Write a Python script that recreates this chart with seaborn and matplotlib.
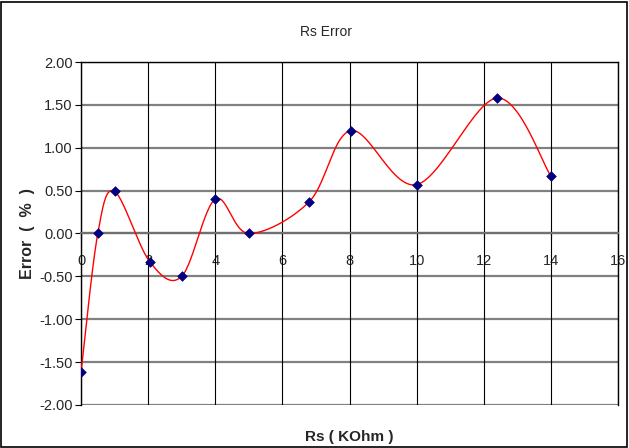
import numpy as np
import pandas as pd
import matplotlib
matplotlib.use("Agg")
import matplotlib.pyplot as plt
import seaborn as sns
from matplotlib.patches import Rectangle

# Data
rs_kohm = [0.0, 0.5, 1.0, 2.05, 3.0, 4.0, 5.0, 6.8, 8.05, 10.0, 12.4, 14.0]
error_pct = [-1.62, 0.0, 0.49, -0.33, -0.50, 0.40, 0.0, 0.37, 1.20, 0.57, 1.58, 0.67]
x_ticks = [0, 2, 4, 6, 8, 10, 12, 14, 16]
y_ticks = [-2.0, -1.5, -1.0, -0.5, 0.0, 0.5, 1.0, 1.5, 2.0]

sns.set_theme(style="white")
plt.rcParams["font.family"] = ["Liberation Sans", "DejaVu Sans"]
tick_fs = 10.5

W, H = 629, 448
fig = plt.figure(figsize=(W / 100, H / 100), dpi=100)
ax = fig.add_axes([81 / W, 1 - 405 / H, (618 - 81) / W, (405 - 62) / H])

df = pd.DataFrame({"rs": rs_kohm, "err": error_pct})

# Excel-style smoothed line (Catmull-Rom Bezier in pixel space)
sx, sy = 33.6, 86.0
P = np.column_stack([df["rs"].to_numpy() * sx, df["err"].to_numpy() * sy])
n = len(P)
curve = []
t = np.linspace(0, 1, 30)
for i in range(n - 1):
    p0 = P[i - 1] if i > 0 else P[i]
    p1 = P[i]
    p2 = P[i + 1]
    p3 = P[i + 2] if i + 2 < n else P[i + 1]
    c1 = p1 + (p2 - p0) / 6.0
    c2 = p2 - (p3 - p1) / 6.0
    seg = ((1 - t) ** 3)[:, None] * p1 + (3 * (1 - t) ** 2 * t)[:, None] * c1 \
        + (3 * (1 - t) * t ** 2)[:, None] * c2 + (t ** 3)[:, None] * p2
    curve.append(seg if i == 0 else seg[1:])
curve = np.vstack(curve)
curve_df = pd.DataFrame({"rs": curve[:, 0] / sx, "err": curve[:, 1] / sy})

sns.lineplot(data=curve_df, x="rs", y="err", sort=False, color="#ff0000",
             linewidth=1.0, ax=ax, zorder=3)
sns.scatterplot(data=df, x="rs", y="err", marker="D", s=24, color="#000080",
                edgecolor="#000080", linewidth=0.5, ax=ax, zorder=4)

ax.set_xlim(0, 16)
ax.set_ylim(-2, 2)
ax.set_xticks(x_ticks)
ax.set_yticks(y_ticks)
ax.set_xticklabels([str(v) for v in x_ticks])
ax.set_yticklabels([f"{v:.2f}" for v in y_ticks])

# gridlines
for v in y_ticks:
    ax.axhline(v, color="#808080", linewidth=1.6, zorder=1)
for v in x_ticks:
    ax.axvline(v, color="#000000", linewidth=0.8, zorder=1)

for side in ["top", "left", "right"]:
    ax.spines[side].set_color("black")
    ax.spines[side].set_linewidth(1.0)
ax.spines["bottom"].set_position(("data", 0))
ax.spines["bottom"].set_color("#707070")
ax.spines["bottom"].set_linewidth(1.6)

ax.tick_params(axis="x", direction="out", length=4, width=0.8, color="black",
               labelsize=tick_fs, pad=11, bottom=True)
ax.tick_params(axis="y", direction="out", length=4, width=0.8, color="black",
               labelsize=tick_fs, pad=2, left=True)
ax.set_xlabel("")
ax.set_ylabel("")

fig.text(326 / W, 1 - 32 / H, "Rs Error", ha="center", va="center", fontsize=10)
fig.text(349 / W, 1 - 437 / H, "Rs ( KOhm )", ha="center", va="center",
         fontsize=11, fontweight="bold")
fig.text(28 / W, 1 - 234 / H, "Error  (  %  )", ha="center", va="center",
         fontsize=11.5, fontweight="bold", rotation=90)

fig.patches.append(Rectangle((1 / W, 1 / H), (W - 3) / W, (H - 3) / H,
                             transform=fig.transFigure, fill=False,
                             edgecolor="black", linewidth=1.2))

fig.savefig("out.png", dpi=100)
